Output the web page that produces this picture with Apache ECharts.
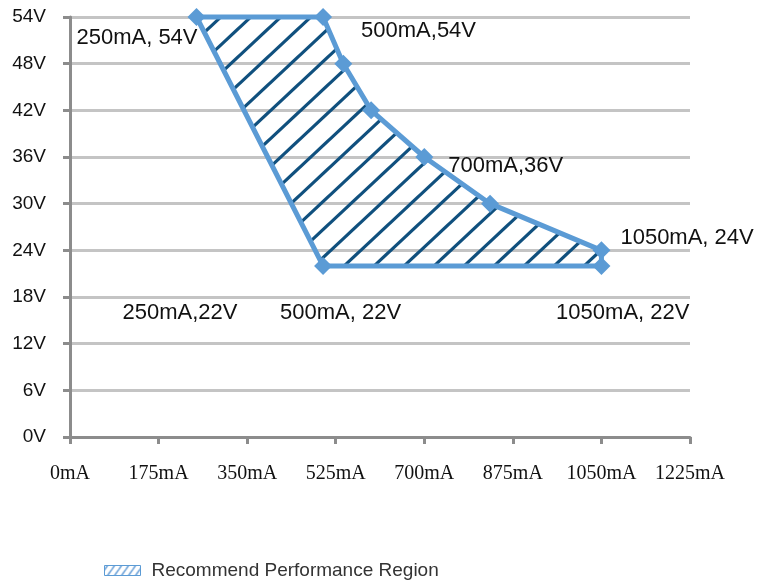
<!DOCTYPE html>
<html><head><meta charset="utf-8">
<script src="https://cdn.jsdelivr.net/npm/echarts@6/dist/echarts.min.js"></script>
<style>html,body{margin:0;padding:0;background:#fff}#c{width:759px;height:581px}</style>
</head><body><div id="c"></div>
<script>
// ---- data ----
const regionCurrent = [250, 500, 540, 595, 700, 830, 1050, 1050, 500];
const regionVoltage = [54, 54, 48, 42, 36, 30, 24, 22, 22];
const labelCurrent = [250, 500, 700, 1050, 250, 500, 1050];
const labelVoltage = [54, 54, 36, 24, 22, 22, 22];
const labelText = ['250mA, 54V', '500mA,54V', '700mA,36V', '1050mA, 24V', '250mA,22V', '500mA, 22V', '1050mA, 22V'];
const xTickLabels = ['0mA', '175mA', '350mA', '525mA', '700mA', '875mA', '1050mA', '1225mA'];
const yTickLabels = ['0V', '6V', '12V', '18V', '24V', '30V', '36V', '42V', '48V', '54V'];
const seriesName = 'Recommend Performance Region';

// ---- label layout (style only) ----
const labelLayout = [
  { align: 'right', offset: [1, 21] },
  { align: 'left', offset: [38, 14] },
  { align: 'left', offset: [24, 9] },
  { align: 'left', offset: [19, -12] },
  { align: 'left', offset: [-74, 47] },
  { align: 'left', offset: [-43, 47] },
  { align: 'right', offset: [88, 47] }
];

function makeHatch(w, h, c, color, lw) {
  const cv = document.createElement('canvas');
  cv.width = w; cv.height = h;
  const ctx = cv.getContext('2d');
  ctx.strokeStyle = color; ctx.lineWidth = lw;
  for (let k = -1; k <= 2; k++) {
    const x0 = c + k * w, x1 = x0 - w;
    ctx.beginPath();
    ctx.moveTo(x0 + w * 0.5, -h * 0.5);
    ctx.lineTo(x1 - w * 0.5, h * 1.5);
    ctx.stroke();
  }
  return cv;
}
const hatch = makeHatch(30, 28, 29, '#10507e', 3.2);
const legendHatch = makeHatch(7, 10, 3, '#4f8fd0', 1.3);

const textBase = { textBorderWidth: 0, textShadowBlur: 0, opacity: 1 };

const chart = echarts.init(document.getElementById('c'));
chart.setOption({
  backgroundColor: '#fff',
  animation: false,
  grid: { left: 70, right: 69, top: 17, bottom: 144 },
  xAxis: {
    type: 'value', min: 0, max: 1225, interval: 175,
    axisLine: { show: true, lineStyle: { color: '#8c8c8c', width: 3 } },
    axisTick: { show: true, length: 7, lineStyle: { color: '#8c8c8c', width: 3 } },
    splitLine: { show: false },
    axisLabel: {
      margin: 27, fontFamily: 'Liberation Serif', fontSize: 20, color: '#111',
      formatter: v => xTickLabels[Math.round(v / 175)]
    }
  },
  yAxis: {
    type: 'value', min: 0, max: 54, interval: 6,
    axisLine: { show: true, lineStyle: { color: '#8c8c8c', width: 3 } },
    axisTick: { show: true, length: 7, lineStyle: { color: '#8c8c8c', width: 3 } },
    splitLine: { show: true, lineStyle: { color: '#c4c4c4', width: 3 } },
    axisLabel: {
      margin: 24, fontFamily: 'Liberation Sans', fontSize: 19, color: '#111',
      formatter: v => yTickLabels[Math.round(v / 6)]
    }
  },
  legend: {
    data: [{ name: seriesName, icon: 'rect',
      itemStyle: { color: { image: legendHatch, repeat: 'repeat' }, borderColor: '#5b9bd5', borderWidth: 1 } }],
    left: 99, top: 556, itemWidth: 36, itemHeight: 10, selectedMode: false,
    textStyle: { fontFamily: 'Liberation Sans', fontSize: 19, color: '#333', padding: [0, 0, 0, 6] }
  },
  series: [
    {
      type: 'custom', name: seriesName, data: [[regionCurrent[0], regionVoltage[0]]], clip: false, z: 2, silent: true,
      itemStyle: { color: '#5b9bd5' },
      renderItem: (params, api) => {
        const pts = regionCurrent.map((x, i) => api.coord([x, regionVoltage[i]]));
        return {
          type: 'polygon', shape: { points: pts },
          style: { fill: { image: hatch, repeat: 'repeat' }, stroke: '#5b9bd5', lineWidth: 5, lineJoin: 'round' }
        };
      }
    },
    {
      type: 'scatter', name: 'markers', z: 3, silent: true, clip: false,
      data: regionCurrent.map((x, i) => [x, regionVoltage[i]]),
      symbol: 'diamond', symbolSize: 18,
      itemStyle: { color: '#5b9bd5', opacity: 1 }
    },
    {
      type: 'scatter', name: 'labels', z: 4, silent: true, clip: false, symbolSize: 0,
      itemStyle: { color: '#111', opacity: 1 },
      data: labelCurrent.map((x, i) => ({
        value: [x, labelVoltage[i]],
        label: Object.assign({
          show: true, position: 'inside', formatter: labelText[i],
          align: labelLayout[i].align, verticalAlign: 'middle', offset: labelLayout[i].offset,
          fontFamily: 'Liberation Sans', fontSize: 22, color: '#111'
        }, textBase)
      }))
    }
  ]
});
</script>
</body></html>
